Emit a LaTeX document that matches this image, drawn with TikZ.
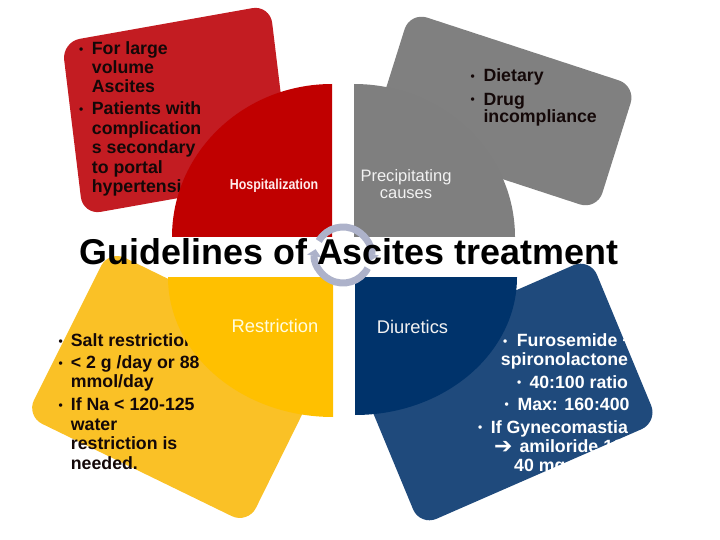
\documentclass[tikz,border=0pt]{standalone}
\usepackage{fontspec}
\usepackage{graphicx}
\setmainfont{Liberation Sans}
\newfontfamily\symfnt{DejaVu Sans}
\usetikzlibrary{arrows.meta,calc}
\definecolor{redcard}{HTML}{C31C22}
\definecolor{redquad}{HTML}{C00000}
\definecolor{graycard}{HTML}{808080}
\definecolor{grayquad}{HTML}{7F7F7F}
\definecolor{yelcard}{HTML}{FAC126}
\definecolor{yelquad}{HTML}{FFC000}
\definecolor{bluecard}{HTML}{1F4A7C}
\definecolor{bluequad}{HTML}{00336B}
\definecolor{ringc}{HTML}{ADB2CA}
\definecolor{txtdark}{HTML}{140808}
\tikzset{
  cardshape/.style={rounded corners=18bp},
  ctext/.style={anchor=base west, inner sep=0pt, font=\fontsize{17.8}{20}\selectfont\bfseries},
  bul/.style={anchor=base west, inner sep=0pt, font=\fontsize{12}{12}\selectfont\bfseries},
  qlabel/.style={anchor=base, inner sep=0pt, align=center},
  ringarc/.style={line width=7bp, draw=ringc, -{Triangle[length=7bp,width=14bp]}}
}
\begin{document}
\begin{tikzpicture}[x=1bp,y=-1bp]
\useasboundingbox (0,0) rectangle (720,540);
% card corners
\coordinate (r1) at (62,42);  \coordinate (r2) at (270,5);   \coordinate (r3) at (291,178); \coordinate (r4) at (83,215);
\coordinate (g1) at (410,12); \coordinate (g2) at (636,86);  \coordinate (g3) at (597,210); \coordinate (g4) at (371,136);
\coordinate (y1) at (109,250);\coordinate (y2) at (330,358); \coordinate (y3) at (248,524); \coordinate (y4) at (26,416);
\coordinate (b1) at (352,362);\coordinate (b2) at (590,258); \coordinate (b3) at (658,422); \coordinate (b4) at (420,526);
% cards
\fill[redcard, cardshape] ($(r1)!0.5!(r2)$) -- (r2) -- (r3) -- (r4) -- (r1) -- cycle;
\fill[graycard, cardshape] ($(g1)!0.5!(g2)$) -- (g2) -- (g3) -- (g4) -- (g1) -- cycle;
\fill[yelcard, cardshape] ($(y1)!0.5!(y2)$) -- (y2) -- (y3) -- (y4) -- (y1) -- cycle;
\fill[bluecard, cardshape] ($(b1)!0.5!(b2)$) -- (b2) -- (b3) -- (b4) -- (b1) -- cycle;
% red card text
\begin{scope}[every node/.style={ctext, text=txtdark}]
\node[bul] (rb1) at (79,53.5) {•};
\node (rt1) at (91.7,55) {For large};
\node (rt2) at (91.7,74) {volume};
\node (rt3) at (91.7,93) {Ascites};
\node[bul] (rb2) at (79,113.5) {•};
\node (rt4) at (91.7,115) {Patients with};
\node (rt5) at (91.7,134.5) {complication};
\node (rt6) at (91.7,154) {s secondary};
\node (rt7) at (91.7,173.5) {to portal};
\node (rt8) at (91.7,193) {hypertension};
% gray card text
\node[bul] (gb1) at (470.5,80.2) {•};
\node (gt1) at (483.3,81.7) {Dietary};
\node[bul] (gb2) at (470.5,104) {•};
\node (gt2) at (483.3,105.5) {Drug};
\node (gt3) at (483.3,122.5) {incompliance};
% yellow card text
\node[bul] (yb1) at (58.5,345.2) {•};
\node (yt1) at (70.7,346.7) {Salt restriction};
\node[bul] (yb2) at (58.5,367) {•};
\node (yt2) at (70.7,368.5) {< 2 g /day or 88};
\node (yt3) at (70.7,387.5) {mmol/day};
\node[bul] (yb3) at (58.5,409.2) {•};
\node (yt4) at (70.7,410.7) {If Na < 120-125};
\node (yt5) at (70.7,430) {water};
\node (yt6) at (70.7,449.5) {restriction is};
\node (yt7) at (70.7,469) {needed.};
\end{scope}
% blue card text, clipped to card
\begin{scope}
\clip[cardshape] ($(b1)!0.5!(b2)$) -- (b2) -- (b3) -- (b4) -- (b1) -- cycle;
\begin{scope}[every node/.style={ctext, text=white}]
\node[bul] (bb1) at (503,345.2) {•};
\node (bt1) at (516.7,346.7) {Furosemide +};
\node (bt2) at (500.7,365.5) {spironolactone};
\node[bul] (bb2) at (517,386.8) {•};
\node (bt3) at (529.3,388.3) {40:100 ratio};
\node[bul] (bb3) at (504.5,408.5) {•};
\node (bt4) at (517.3,410) {Max: 160:400};
\node[bul] (bb4) at (478,431.8) {•};
\node (bt5) at (490.7,433.3) {If Gynecomastia};
\node (ba) at (494,453) {\symfnt\fontsize{22}{22}\selectfont ➔};
\node (bt6) at (519.3,452.3) {amiloride 10-};
\node (bt7) at (514,471.7) {40 mg};
\end{scope}
\end{scope}
% quadrants
\fill[redquad] (332,237) -- (172,237) arc[start angle=180, end angle=270, x radius=160, y radius=153] -- cycle;
\fill[grayquad] (354,237) -- (354,84) arc[start angle=270, end angle=360, x radius=161, y radius=153] -- cycle;
\fill[yelquad] (333,277) -- (168,277) arc[start angle=180, end angle=90, x radius=165, y radius=140] -- cycle;
\fill[bluequad] (355,277) -- (355,415) arc[start angle=90, end angle=0, x radius=162, y radius=138] -- cycle;
% quadrant labels
\node[qlabel, text=white!92!red, font=\fontsize{14.5}{15}\selectfont\bfseries] (hosp) at (274,189.3) {\scalebox{0.86}[1]{Hospitalization}};
\node[qlabel, text=white!95!black, font=\fontsize{16.6}{16.6}\selectfont] (prec) at (406,198.3) {Precipitating\\[-0.2bp]causes};
\node[qlabel, text=white!88!yellow, font=\fontsize{18.4}{20}\selectfont] (restr) at (275,332.7) {Restriction};
\node[qlabel, text=white!95!black, font=\fontsize{18.4}{20}\selectfont] (diur) at (412.5,333.3) {Diuretics};
% cycle ring
\coordinate (cc) at (343,255);
\draw[ringarc] ($(cc)+(-150:28)$) arc[start angle=-150, end angle=12, radius=28];
\draw[ringarc] ($(cc)+(28:28)$) arc[start angle=28, end angle=192, radius=28];
% title
\node[anchor=base, inner sep=0pt, font=\fontsize{36}{40}\selectfont\bfseries] (title) at (349,265) {Guidelines of Ascites treatment};
\end{tikzpicture}
\end{document}
